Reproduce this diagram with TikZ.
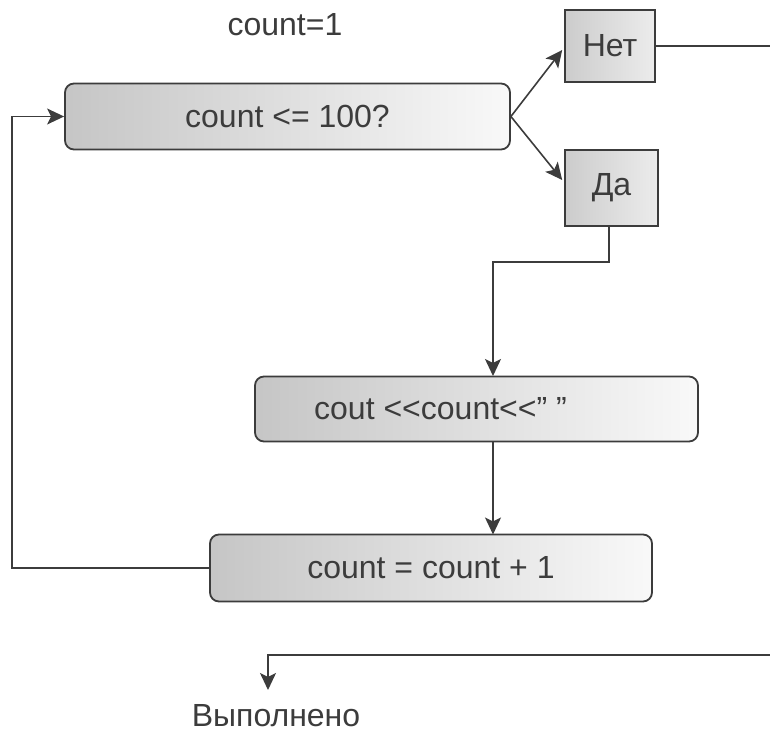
\documentclass[tikz,border=0pt]{standalone}
\usepackage{fontspec}
\setmainfont{Liberation Sans}
\usetikzlibrary{arrows.meta,calc}
\definecolor{ink}{HTML}{3C3C3C}
\tikzset{
  x=1pt,y=-1pt,
  every node/.style={font=\fontsize{32}{35}\selectfont, text=ink},
  rbox/.style={draw=ink, line width=1.8pt, rounded corners=9pt, left color=gray!45, right color=gray!5, minimum height=66pt, inner sep=0pt},
  sbox/.style={draw=ink, line width=1.6pt, left color=gray!40, right color=gray!15, inner sep=0pt},
  conn/.style={draw=ink, line width=1.6pt},
  arr/.style={conn, -{Stealth[length=17pt,width=16pt,inset=4pt]}}
}
\begin{document}
\begin{tikzpicture}
\useasboundingbox (0,0) rectangle (770,733);
\node (init) at (285,25) {count=1};
\node[rbox, minimum width=445pt] (cond) at (287.5,116.5) {count <= 100?};
\node[sbox, minimum width=90pt, minimum height=72pt] (net) at (610,46) {Нет};
\node[sbox, minimum width=93pt, minimum height=76pt] (da) at (611.5,188) {Да};
\node[rbox, minimum width=443pt, minimum height=65pt] (cout) at (476.5,409) {\hspace*{-72pt}cout <{}<count<{}<" "};
\node[rbox, minimum width=442pt, minimum height=67pt] (inc) at (431,568) {count = count + 1};
\node (done) at (276,716) {Выполнено};
\coordinate (netR) at (770,46);
\coordinate (botR) at (770,655);
\coordinate (botL) at (268,655);
\coordinate (doneT) at (268,690);

\draw[arr] (cond.east) -- ($(net.west)+(-2,4)$);
\draw[arr] (cond.east) -- ($(da.west)+(-2,-8)$);
\draw[conn] (net.east) -- (netR);
\draw[arr] (609,226) -- (609,262) -- (493,262) -- (493,376);
\draw[arr] (493,441.5) -- (493,534.5);
\draw[arr] (inc.west) -- (12,568) -- (12,116.5) -- (cond.west);
\draw[arr] (botR) -- (botL) -- (doneT);
\end{tikzpicture}
\end{document}
